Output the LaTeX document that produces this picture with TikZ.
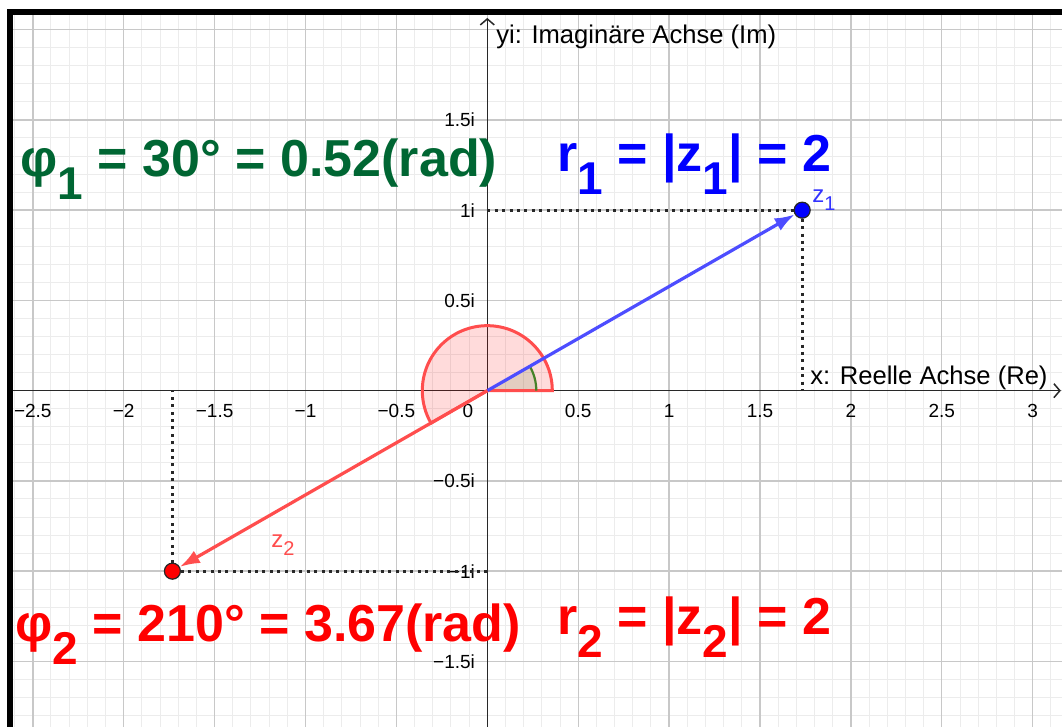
\documentclass[tikz,border=0pt]{standalone}
\usepackage{fontspec}
\setmainfont{Liberation Sans}
\usetikzlibrary{arrows.meta,positioning,calc}
\definecolor{phigreen}{RGB}{0,102,51}
\definecolor{vecblue}{RGB}{77,77,255}
\definecolor{vecred}{RGB}{255,77,77}
\definecolor{zblue}{RGB}{51,51,255}
\definecolor{gridmajor}{RGB}{200,200,200}
\definecolor{gridminor}{RGB}{236,236,236}
\definecolor{angreen}{RGB}{70,130,40}
\definecolor{axisgray}{RGB}{40,40,40}
\newcommand\bigsub[1]{\raisebox{-11.5pt}{\fontsize{23}{27}\selectfont #1}}
\newcommand\smallsub[1]{\raisebox{-4pt}{\fontsize{10}{12}\selectfont #1}}

\begin{document}
\begin{tikzpicture}[x=90.9pt,y=90.25pt,font=\fontsize{9.5}{11}\selectfont,
  bigtext/.style={inner sep=0pt,anchor=base west,font=\fontsize{26}{31}\selectfont\bfseries},
  axlabel/.style={inner sep=0pt,font=\fontsize{12.8}{15}\selectfont},
  zlabel/.style={inner sep=0pt,anchor=base west,font=\fontsize{12}{14}\selectfont},
  dotline/.style={axisgray,line width=1.6pt,dash pattern=on 1.5pt off 2.2pt},
  pointdot/.style={circle,draw=black!85,line width=0.6pt,minimum size=8pt,inner sep=0pt},
  vector/.style={line width=1.6pt,-{Latex[length=10pt,width=7pt]}}]
  % page and grid
  \useasboundingbox[fill=white] (-2.6805,-1.8632) rectangle (3.1612,2.1645);
  \begin{scope}
    \clip (-2.6106,-1.8632) rectangle (3.1612,2.0814);
    \draw[gridminor,line width=0.5pt,step=0.1] (-2.75,-1.95) grid (3.25,2.15);
    \draw[gridmajor,line width=0.7pt,step=0.5] (-2.75,-1.95) grid (3.25,2.15);
  \end{scope}
  \draw[line width=3pt] (-2.6263,-1.9) -- (-2.6263,2.0980) -- (3.2,2.0980);

  % axes
  \coordinate (O) at (0,0);
  \coordinate (xl) at (-2.6106,0); \coordinate (xr) at (3.155,0);
  \coordinate (yb) at (0,-1.9);    \coordinate (yt) at (0,2.065);
  \draw[axisgray,line width=0.75pt,-{Straight Barb[length=3pt,width=7pt]}] (xl) -- (xr);
  \draw[axisgray,line width=0.75pt,-{Straight Barb[length=3pt,width=7pt]}] (yb) -- (yt);
  \foreach \v/\t [count=\i] in {-2.5/−2.5,-2/−2,-1.5/−1.5,-1/−1,-0.5/−0.5,
      0.5/0.5,1/1,1.5/1.5,2/2,2.5/2.5,3/3}
    \node[anchor=base,inner sep=0pt] (xt\i) at (\v,-0.146) {\t};
  \node[anchor=base,inner sep=0pt] (xt0) at (-0.106,-0.146) {0};
  \foreach \v/\t [count=\i] in {1.5/1.5i,1/1i,0.5/0.5i,-0.5/−0.5i,-1/−1i,-1.5/−1.5i}
    \node[anchor=east,inner sep=0pt] (yt\i) at (-0.066,\v) {\t};
  \node[axlabel,anchor=base west] (ylab) at (0.048,1.926) {yi: Imaginäre Achse (Im)};
  \node[axlabel,anchor=base east] (xlab) at (3.084,0.032) {x: Reelle Achse (Re)};

  % angles
  \fill[red,opacity=0.14] (O) -- (32.5pt,0) arc[start angle=0,end angle=210,radius=32.5pt] -- cycle;
  \fill[angreen,opacity=0.15] (O) -- (24.5pt,0) arc[start angle=0,end angle=30,radius=24.5pt] -- cycle;
  \draw[vecred,line width=1.5pt] (O) -- (32.5pt,0) arc[start angle=0,end angle=210,radius=32.5pt] -- cycle;
  \draw[angreen,line width=1.1pt] (24.5pt,0) arc[start angle=0,end angle=30,radius=24.5pt];

  % points and projections
  \node[pointdot,fill=blue] (z1) at ({sqrt(3)},1) {};
  \node[pointdot,fill=red] (z2) at ({-sqrt(3)},-1) {};
  \coordinate (z1x) at ({sqrt(3)},0);  \coordinate (z1y) at (0,1);
  \coordinate (z2x) at ({-sqrt(3)},0); \coordinate (z2y) at (0,-1);
  \draw[dotline] (z1y) -- (z1);
  \draw[dotline] (z1) -- (z1x);
  \draw[dotline] (z2y) -- (z2);
  \draw[dotline] (z2) -- (z2x);
  \draw[vector,vecblue] (O) -- (z1);
  \draw[vector,vecred] (O) -- (z2);
  \node[zlabel,text=zblue] (z1lab) at (1.786,1.040) {z\smallsub{1}};
  \node[zlabel,text=vecred] (z2lab) at (-1.190,-0.871) {z\smallsub{2}};

  % values
  \node[bigtext,text=phigreen] (phi1) at (-2.570,1.184) {φ\bigsub{1} = 30° = 0.52(rad)};
  \node[bigtext,text=blue] (r1) at (0.383,1.212) {r\bigsub{1} = |z\bigsub{1}| = 2};
  \node[bigtext,text=red] (phi2) at (-2.598,-1.392) {φ\bigsub{2} = 210° = 3.67(rad)};
  \node[bigtext,text=red] (r2) at (0.383,-1.353) {r\bigsub{2} = |z\bigsub{2}| = 2};
\end{tikzpicture}
\end{document}
